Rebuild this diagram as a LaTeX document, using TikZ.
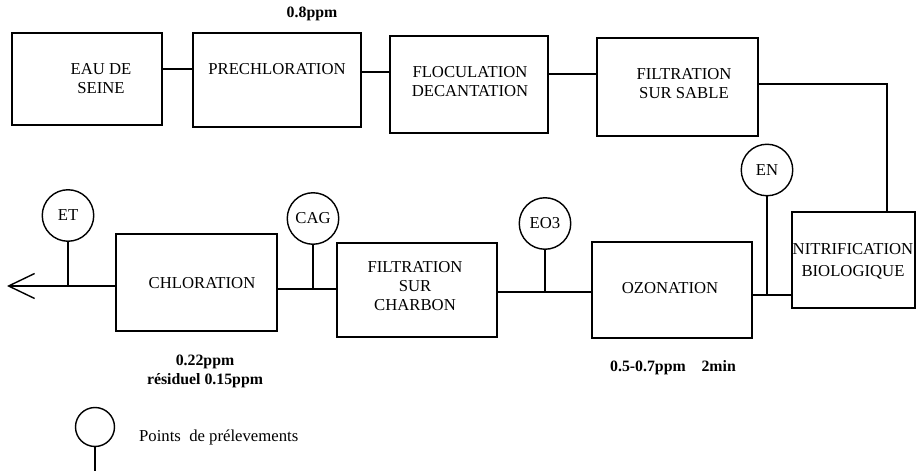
\documentclass[tikz,border=0pt]{standalone}
\usepackage{fontspec}
\setmainfont{Liberation Serif}
\usetikzlibrary{arrows.meta}

\begin{document}
\begin{tikzpicture}[
    box/.style={draw, line width=0.9pt, inner sep=0pt},
    lbl/.style={align=center, font=\fontsize{9.5}{10.8}\selectfont},
    pt/.style={draw, circle, line width=0.8pt, minimum size=1.03cm, inner sep=0pt, font=\fontsize{9.5}{11}\selectfont},
    dose/.style={align=center, font=\fontsize{9}{10.8}\selectfont\bfseries},
    pipe/.style={line width=0.8pt}]
    \useasboundingbox (0,0) rectangle (18.44,-9.42);

    \node[box, minimum width=3cm, minimum height=1.84cm] (seine) at (1.74,-1.58) {};
    \node[lbl] (seine-t) at (2.02,-1.58) {EAU DE\\SEINE};
    \node[box, minimum width=3.36cm, minimum height=1.88cm] (prech) at (5.54,-1.6) {};
    \node[lbl] (prech-t) at (5.54,-1.38) {PRECHLORATION};
    \node[box, minimum width=3.16cm, minimum height=1.94cm] (floc) at (9.38,-1.69) {};
    \node[lbl] (floc-t) at (9.4,-1.63) {FLOCULATION\\DECANTATION};
    \node[box, minimum width=3.22cm, minimum height=1.96cm] (sable) at (13.55,-1.74) {};
    \node[lbl] (sable-t) at (13.68,-1.67) {FILTRATION\\SUR SABLE};
    \node[box, minimum width=2.46cm, minimum height=1.92cm] (nitrif) at (17.07,-5.2) {};
    \node[lbl, font=\fontsize{9.5}{12.5}\selectfont] (nitrif-t) at (17.06,-5.22) {NITRIFICATION\\BIOLOGIQUE};
    \node[box, minimum width=3.2cm, minimum height=1.92cm] (ozon) at (13.44,-5.8) {};
    \node[lbl] (ozon-t) at (13.4,-5.76) {OZONATION};
    \node[box, minimum width=3.2cm, minimum height=1.88cm] (charb) at (8.34,-5.8) {};
    \node[lbl] (charb-t) at (8.3,-5.72) {FILTRATION\\SUR\\CHARBON};
    \node[box, minimum width=3.22cm, minimum height=1.94cm] (chlor) at (3.93,-5.65) {};
    \node[lbl] (chlor-t) at (4.04,-5.66) {CHLORATION};

    \node[pt] (et) at (1.36,-4.31) {ET};
    \node[pt] (cag) at (6.26,-4.37) {CAG};
    \node[pt] (eo) at (10.9,-4.47) {EO3};
    \node[pt] (en) at (15.34,-3.4) {EN};

    \coordinate (l2) at (7.5,-1.44);
    \coordinate (l3) at (11.45,-1.48);
    \coordinate (c1) at (17.74,-1.68);
    \coordinate (tEN) at (15.34,-5.9);
    \coordinate (tEO) at (10.9,-5.84);
    \coordinate (tCAG) at (6.26,-5.78);
    \coordinate (tET) at (1.36,-5.72);
    \coordinate (out) at (0.14,-5.72);

    \draw[pipe] (seine.east |- prech-t) -- (prech.west |- prech-t);
    \draw[pipe] (prech.east |- l2) -- (floc.west |- l2);
    \draw[pipe] (floc.east |- l3) -- (sable.west |- l3);
    \draw[pipe] (sable.east |- c1) -- (c1) -- (c1 |- nitrif.north);
    \draw[pipe] (nitrif.west |- tEN) -- (ozon.east |- tEN);
    \draw[pipe] (ozon.west |- tEO) -- (charb.east |- tEO);
    \draw[pipe] (charb.west |- tCAG) -- (chlor.east |- tCAG);
    \draw[pipe, -{Straight Barb[length=5.2mm, width=5mm]}] (chlor.west |- tET) -- (out);
    \draw[pipe] (en) -- (tEN);
    \draw[pipe] (eo) -- (tEO);
    \draw[pipe] (cag) -- (tCAG);
    \draw[pipe] (et) -- (tET);

    \node[dose] (d1) at (6.24,-0.28) {0.8ppm};
    \node[dose] (d2) at (4.1,-7.43) {0.22ppm\\résiduel 0.15ppm};
    \node[dose] (d3) at (13.46,-7.36) {0.5-0.7ppm\quad 2min};

    \node[pt, minimum size=0.78cm] (leg) at (1.9,-8.54) {};
    \coordinate (leg-end) at (1.9,-9.42);
    \draw[pipe] (leg.south) -- (leg-end);
    \node[anchor=west, font=\fontsize{9.5}{11}\selectfont] (leg-t) at (2.66,-8.74) {Points\ \ de prélevements};
\end{tikzpicture}
\end{document}
